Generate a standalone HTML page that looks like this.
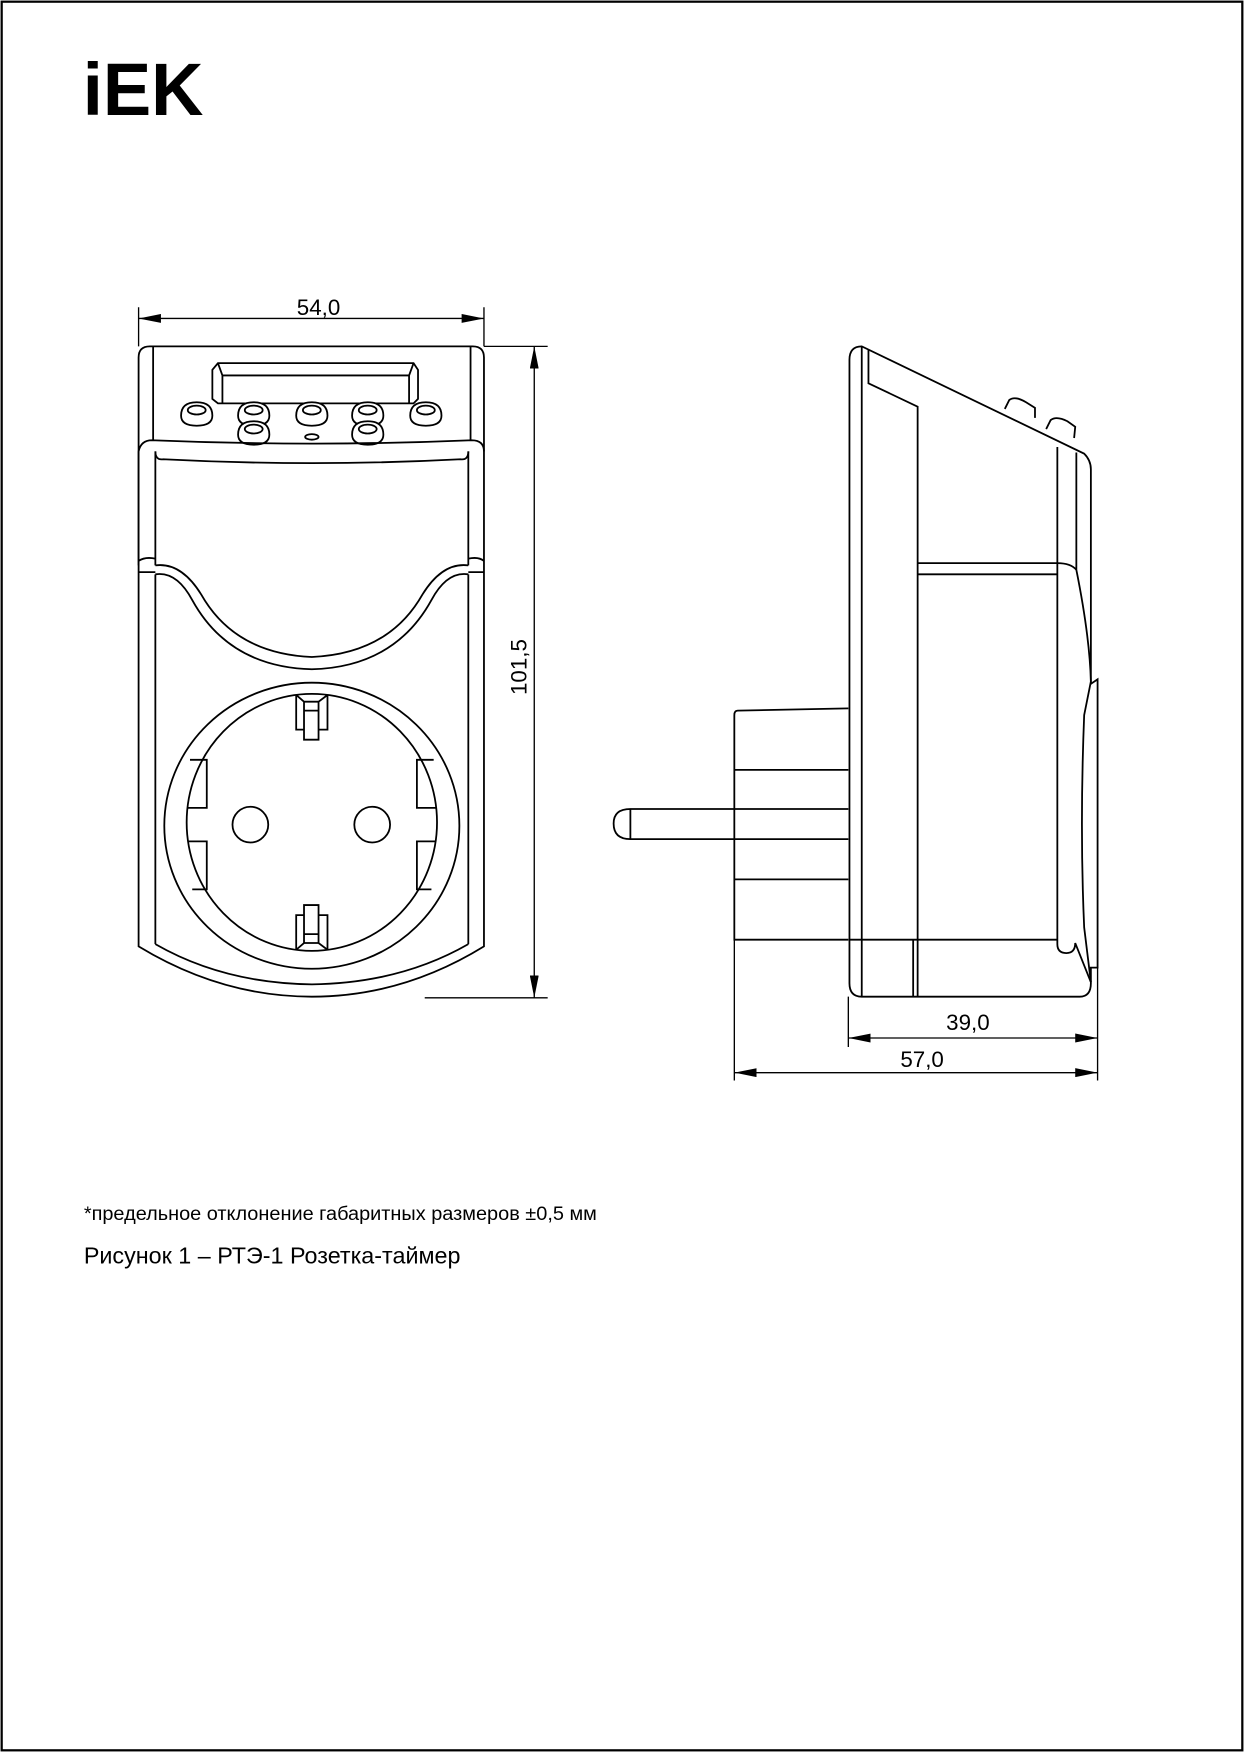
<!DOCTYPE html>
<html><head><meta charset="utf-8"><style>
html,body{margin:0;padding:0;background:#fff;}
svg{display:block;}
</style></head><body>
<svg width="1244" height="1752" viewBox="0 0 1113 1568" preserveAspectRatio="none" xmlns="http://www.w3.org/2000/svg">
<defs>
<marker id="a" viewBox="0 0 20 8" refX="20" refY="4" markerWidth="20" markerHeight="8" markerUnits="userSpaceOnUse" orient="auto-start-reverse"><path d="M0,0 L20,4 L0,8 Z" fill="#000"/></marker>
</defs>
<rect x="1.5" y="1.5" width="1110" height="1565" fill="#fff" stroke="#000" stroke-width="2"/>
<text x="74" y="103" font-family="Liberation Sans, sans-serif" font-weight="bold" font-size="66" textLength="108" lengthAdjust="spacingAndGlyphs">iEK</text>

<g fill="none" stroke="#000" stroke-width="1.6">
<!-- FRONT VIEW -->
<path d="M124,320 Q124,310 134,310 L423,310 Q433,310 433,320 L433,847 Q360,892 279,892 Q198,892 124,847 Z"/>
<path d="M137,310 L137,394 M421,310 L421,394"/>
<path d="M139,845 Q200,880 279,881 Q358,880 419,845"/>
<path d="M190,331 L195,325 L370,325 L374,331 L374,357 L370,361 L195,361 L190,357 Z"/>
<path d="M195,325 L199,336 L366,336 L370,325 M199,336 L199,361 M366,336 L366,361"/>
<g fill="#fff">
<path d="M162,372 Q162,360 176,360 Q190,360 190,372 Q190,381 176,381 Q162,381 162,372 Z"/><ellipse cx="176" cy="367" rx="8" ry="4"/>
<path d="M213,372 Q213,360 227,360 Q241,360 241,372 Q241,381 227,381 Q213,381 213,372 Z"/><ellipse cx="227" cy="367" rx="8" ry="4"/>
<path d="M265,372 Q265,360 279,360 Q293,360 293,372 Q293,381 279,381 Q265,381 265,372 Z"/><ellipse cx="279" cy="367" rx="8" ry="4"/>
<path d="M315,372 Q315,360 329,360 Q343,360 343,372 Q343,381 329,381 Q315,381 315,372 Z"/><ellipse cx="329" cy="367" rx="8" ry="4"/>
<path d="M367,372 Q367,360 381,360 Q395,360 395,372 Q395,381 381,381 Q367,381 367,372 Z"/><ellipse cx="381" cy="367" rx="8" ry="4"/>
<path d="M213,389 Q213,377 227,377 Q241,377 241,389 Q241,398 227,398 Q213,398 213,389 Z"/><ellipse cx="227" cy="384" rx="8" ry="4"/>
<path d="M315,389 Q315,377 329,377 Q343,377 343,389 Q343,398 329,398 Q315,398 315,389 Z"/><ellipse cx="329" cy="384" rx="8" ry="4"/>
</g>
<ellipse cx="279" cy="391" rx="6" ry="2.5"/>
<path d="M124,404 Q126,394 136,394 Q280,400 422,394 Q433,394 433,404"/>
<path d="M139,404 Q139,412 146,411 Q280,418 412,411 Q419,412 419,404"/>
<path d="M139,404 L139,506 M419,404 L419,506 M124,404 L124,506"/>
<path d="M124,502 Q130,498 139,500 M124,512 L139,512 M419,500 Q428,498 433,502 M419,512 L433,512"/>
<path d="M139,506 Q162,503 180,532 Q210,585 279,588 Q348,585 378,532 Q396,503 419,506"/>
<path d="M139,514 Q158,511 172,537 Q205,597 279,599 Q353,597 386,537 Q400,511 419,514"/>
<path d="M139,514 L139,845 M419,514 L419,845"/>
<ellipse cx="279" cy="739" rx="132" ry="128"/>
<ellipse cx="279" cy="736" rx="112" ry="115"/>
<circle cx="224" cy="738" r="16"/>
<circle cx="333" cy="738" r="16"/>
<path d="M170,680 L185,680 L185,723 L168,723 M168,753 L185,753 L185,796 L172,796"/>
<path d="M388,680 L373,680 L373,723 L390,723 M390,753 L373,753 L373,796 L386,796"/>
<path d="M265,622 L265,653 L272,653 L272,662 L285,662 L285,653 L293,653 L293,622 M272,628 L272,653 M285,628 L285,653 M265,622 L272,628 L285,628 L293,622 M272,636 L285,636"/>
<path d="M265,850 L265,819 L272,819 L272,810 L285,810 L285,819 L293,819 L293,850 M272,844 L272,819 M285,844 L285,819 M265,850 L272,844 L285,844 L293,850 M272,836 L285,836"/>
</g>

<g stroke="#000" stroke-width="1.2" fill="none">
<path d="M124,275 L124,310 M433,275 L433,310"/>
<path d="M124,285 L433,285" marker-start="url(#a)" marker-end="url(#a)"/>
<path d="M433,310 L490,310 M380,893 L490,893"/>
<path d="M478,310 L478,893" marker-start="url(#a)" marker-end="url(#a)"/>
</g>
<text x="285" y="282" font-family="Liberation Sans, sans-serif" font-size="20" text-anchor="middle">54,0</text>
<text transform="translate(471,597) rotate(-90)" font-family="Liberation Sans, sans-serif" font-size="20" text-anchor="middle">101,5</text>

<!-- SIDE VIEW -->
<g fill="none" stroke="#000" stroke-width="1.6">
<path d="M760,322 Q760,310 771,310 L970,406 Q976,412 976,420 L976,612 L982,608 L982,866 L976,866 L976,880 Q976,892 966,892 L771,892 Q760,892 760,880 Z"/>
<path d="M771,310 L771,892"/>
<path d="M777,313 L777,343 L821,364 L821,892"/>
<path d="M817,841 L817,892"/>
<path d="M946,400 L946,845 Q946,853 954,853 Q962,853 962,844 L976,879"/>
<path d="M963,405 L963,510 Q975,570 976,610 L970,640 Q966,740 970,830 L976,879"/>
<path d="M821,504 L946,504 M821,514 L946,514 M946,504 Q958,504 963,510"/>
<path d="M760,841 L946,841"/>
<path d="M899,366 L903,358 Q908,354 918,360 L926,365 L926,374"/>
<path d="M936,384 L940,376 Q945,372 955,377 L962,382 L961,392"/>
<path d="M759,634 L660,636 Q657,636 657,640 L657,841 L759,841"/>
<path d="M657,689 L759,689 M657,787 L759,787"/>
<path d="M657,724 L759,724 M657,751 L759,751"/>
<path d="M657,724 L564,724 Q549,724 549,737 Q549,751 564,751 L657,751 M564,724 L564,751"/>
</g>
<g stroke="#000" stroke-width="1.2" fill="none">
<path d="M759,892 L759,937 M657,841 L657,967 M982,866 L982,967"/>
<path d="M759,929 L982,929" marker-start="url(#a)" marker-end="url(#a)"/>
<path d="M657,960 L982,960" marker-start="url(#a)" marker-end="url(#a)"/>
</g>
<text x="866" y="922" font-family="Liberation Sans, sans-serif" font-size="20" text-anchor="middle">39,0</text>
<text x="825" y="955" font-family="Liberation Sans, sans-serif" font-size="20" text-anchor="middle">57,0</text>

<text x="75" y="1092" font-family="Liberation Sans, sans-serif" font-size="17" textLength="459" lengthAdjust="spacingAndGlyphs">*предельное отклонение габаритных размеров ±0,5 мм</text>
<text x="75" y="1131" font-family="Liberation Sans, sans-serif" font-size="21" textLength="337" lengthAdjust="spacingAndGlyphs">Рисунок 1 – РТЭ-1 Розетка-таймер</text>
</svg>
</body></html>
